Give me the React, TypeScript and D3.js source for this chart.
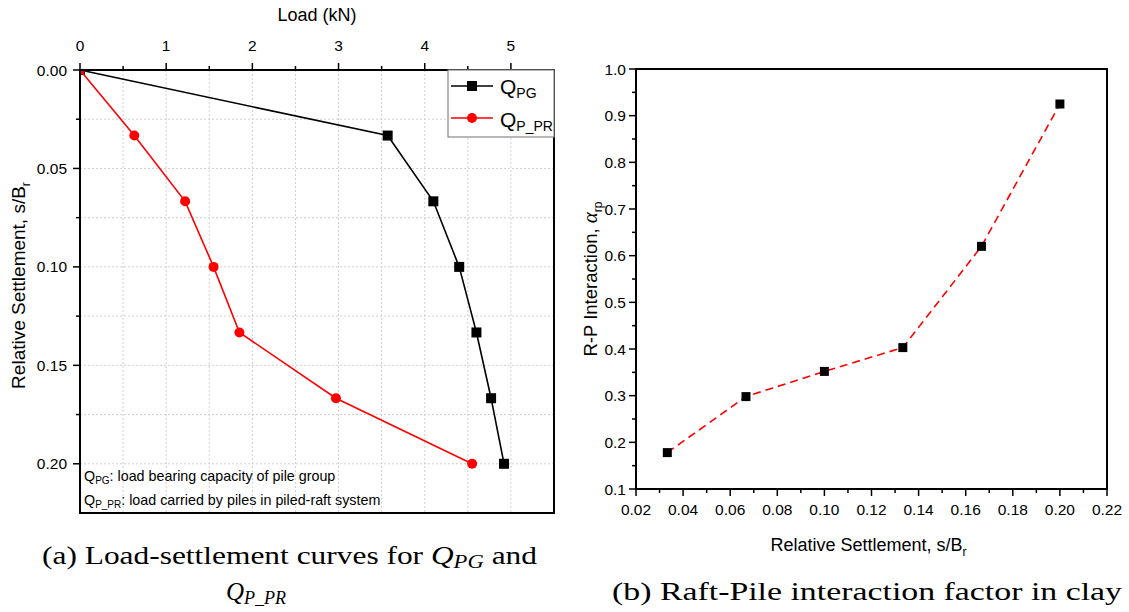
import React from "react";
import * as d3 from "d3";

// Left chart data: load (kN) vs relative settlement
const settlement = [0, 0.0333, 0.0667, 0.1, 0.1333, 0.1667, 0.2];
const loadPG = [0, 3.57, 4.1, 4.4, 4.6, 4.77, 4.92];
const loadPPR = [0, 0.63, 1.22, 1.55, 1.85, 2.97, 4.55];

// Right chart data: interaction factor vs relative settlement
const settleRP = [0.0333, 0.0667, 0.1, 0.1333, 0.1667, 0.2];
const alphaRP = [0.178, 0.298, 0.352, 0.403, 0.62, 0.925];

const leftXTicks = [0, 1, 2, 3, 4, 5];
const leftXMinor = [0.5, 1.5, 2.5, 3.5, 4.5];
const leftYTicks = [0, 0.05, 0.1, 0.15, 0.2];
const leftYMinor = [0.025, 0.075, 0.125, 0.175];
const rightXTicks = [0.02, 0.04, 0.06, 0.08, 0.1, 0.12, 0.14, 0.16, 0.18, 0.2, 0.22];
const rightXMinor = [0.03, 0.05, 0.07, 0.09, 0.11, 0.13, 0.15, 0.17, 0.19, 0.21];
const rightYTicks = [0.1, 0.2, 0.3, 0.4, 0.5, 0.6, 0.7, 0.8, 0.9, 1.0];
const rightYMinor = [0.15, 0.25, 0.35, 0.45, 0.55, 0.65, 0.75, 0.85, 0.95];

const SANS = "Arial, 'Liberation Sans', sans-serif";
const SERIF = "'Liberation Serif', 'DejaVu Serif', serif";

export default function App() {
  const lx = d3.scaleLinear().domain([0, 5.5]).range([80, 554]);
  const ly = d3.scaleLinear().domain([0, 0.225]).range([70, 513]);
  const rx = d3.scaleLinear().domain([0.02, 0.22]).range([636, 1107]);
  const ry = d3.scaleLinear().domain([0.1, 1.0]).range([489, 69]);

  const linePG = d3
    .line<number>()
    .x((d) => lx(d))
    .y((_, i) => ly(settlement[i]))(loadPG) as string;
  const linePPR = d3
    .line<number>()
    .x((d) => lx(d))
    .y((_, i) => ly(settlement[i]))(loadPPR) as string;
  const lineRP = d3
    .line<number>()
    .x((d) => rx(d))
    .y((_, i) => ry(alphaRP[i]))(settleRP) as string;

  const [lx0, lx1] = lx.range();
  const [ly0, ly1] = ly.range();
  const [rx0, rx1] = rx.range();
  const [ry1, ry0] = ry.range();

  return (
    <svg
      width={1129}
      height={612}
      style={{ position: "absolute", left: 0, top: 0, background: "#fff" }}
      fontFamily={SANS}
    >
      <rect x={0} y={0} width={1129} height={612} fill="#fff" />
      <defs>
        <clipPath id="clipL">
          <rect x={lx0} y={ly0} width={lx1 - lx0} height={ly1 - ly0} />
        </clipPath>
      </defs>

      {/* ===== LEFT CHART ===== */}
      <g stroke="#d0d0d0" strokeWidth={1} strokeDasharray="2,2">
        {[...leftXTicks, ...leftXMinor].filter((v) => v > 0).map((v) => (
          <line key={"gx" + v} x1={lx(v)} x2={lx(v)} y1={ly0} y2={ly1} />
        ))}
        {[...leftYTicks, ...leftYMinor].filter((v) => v > 0).map((v) => (
          <line key={"gy" + v} x1={lx0} x2={lx1} y1={ly(v)} y2={ly(v)} />
        ))}
      </g>
      <g clipPath="url(#clipL)">
        <path d={linePG} fill="none" stroke="#000" strokeWidth={1.6} />
        {loadPG.map((v, i) => (
          <rect key={"pg" + i} x={lx(v) - 5} y={ly(settlement[i]) - 5} width={10} height={10} fill="#000" />
        ))}
        <path d={linePPR} fill="none" stroke="#f00" strokeWidth={1.6} />
        {loadPPR.map((v, i) => (
          <circle key={"ppr" + i} cx={lx(v)} cy={ly(settlement[i])} r={5} fill="#f00" />
        ))}
      </g>
      <rect x={lx0} y={ly0} width={lx1 - lx0} height={ly1 - ly0} fill="none" stroke="#000" strokeWidth={2} />
      <g stroke="#000" strokeWidth={1.5}>
        {leftXTicks.map((v) => (
          <line key={"tx" + v} x1={lx(v)} x2={lx(v)} y1={ly0} y2={ly0 - 7} />
        ))}
        {leftXMinor.map((v) => (
          <line key={"mx" + v} x1={lx(v)} x2={lx(v)} y1={ly0} y2={ly0 - 4} />
        ))}
        {leftYTicks.map((v) => (
          <line key={"ty" + v} x1={lx0} x2={lx0 - 7} y1={ly(v)} y2={ly(v)} />
        ))}
        {leftYMinor.map((v) => (
          <line key={"my" + v} x1={lx0} x2={lx0 - 4} y1={ly(v)} y2={ly(v)} />
        ))}
      </g>
      <g fontSize={15.5} fill="#000">
        {leftXTicks.map((v) => (
          <text key={"lx" + v} x={lx(v)} y={ly0 - 19} textAnchor="middle">
            {d3.format("d")(v)}
          </text>
        ))}
        {leftYTicks.map((v) => (
          <text key={"ly" + v} x={lx0 - 13} y={ly(v) + 5.5} textAnchor="end">
            {d3.format(".2f")(v)}
          </text>
        ))}
      </g>
      <text x={(lx0 + lx1) / 2} y={21} textAnchor="middle" fontSize={18}>
        Load (kN)
      </text>
      <text transform={`translate(25, ${(ly0 + ly1) / 2 - 6}) rotate(-90)`} textAnchor="middle" fontSize={19}>
        Relative Settlement, s/B
        <tspan fontSize={12} dy={5}>r</tspan>
      </text>
      {/* legend */}
      <rect x={448} y={ly0} width={lx1 - 448} height={67} fill="#fff" stroke="#888" strokeWidth={1.2} />
      <line x1={451} x2={493} y1={86} y2={86} stroke="#000" strokeWidth={1.6} />
      <rect x={467} y={81} width={10} height={10} fill="#000" />
      <text x={500} y={94} fontSize={21}>
        Q<tspan fontSize={14} dy={4}>PG</tspan>
      </text>
      <line x1={451} x2={493} y1={118} y2={118} stroke="#f00" strokeWidth={1.6} />
      <circle cx={472} cy={118} r={5} fill="#f00" />
      <text x={500} y={127} fontSize={21}>
        Q<tspan fontSize={14} dy={4}>P_PR</tspan>
      </text>
      {/* annotation */}
      <text x={84} y={481} fontSize={14.3}>
        Q<tspan fontSize={10} dy={3}>PG</tspan>
        <tspan dy={-3}>: load bearing capacity of pile group</tspan>
      </text>
      <text x={84} y={505} fontSize={14.3}>
        Q<tspan fontSize={10} dy={3}>P_PR</tspan>
        <tspan dy={-3}>: load carried by piles in piled-raft system</tspan>
      </text>

      {/* ===== RIGHT CHART ===== */}
      <path d={lineRP} fill="none" stroke="#f00" strokeWidth={1.6} strokeDasharray="8,5" />
      {settleRP.map((v, i) => (
        <rect key={"rp" + i} x={rx(v) - 4.5} y={ry(alphaRP[i]) - 4.5} width={9} height={9} fill="#000" />
      ))}
      <rect x={rx0} y={ry0} width={rx1 - rx0} height={ry1 - ry0} fill="none" stroke="#000" strokeWidth={2} />
      <g stroke="#000" strokeWidth={1.5}>
        {rightXTicks.map((v) => (
          <line key={"rtx" + v} x1={rx(v)} x2={rx(v)} y1={ry1} y2={ry1 + 7} />
        ))}
        {rightXMinor.map((v) => (
          <line key={"rmx" + v} x1={rx(v)} x2={rx(v)} y1={ry1} y2={ry1 + 4} />
        ))}
        {rightYTicks.map((v) => (
          <line key={"rty" + v} x1={rx0} x2={rx0 - 7} y1={ry(v)} y2={ry(v)} />
        ))}
        {rightYMinor.map((v) => (
          <line key={"rmy" + v} x1={rx0} x2={rx0 - 4} y1={ry(v)} y2={ry(v)} />
        ))}
      </g>
      <g fontSize={15.5} fill="#000">
        {rightXTicks.map((v) => (
          <text key={"rxl" + v} x={rx(v)} y={ry1 + 26} textAnchor="middle">
            {d3.format(".2f")(v)}
          </text>
        ))}
        {rightYTicks.map((v) => (
          <text key={"ryl" + v} x={rx0 - 10} y={ry(v) + 5.5} textAnchor="end">
            {d3.format(".1f")(v)}
          </text>
        ))}
      </g>
      <text x={(rx0 + rx1) / 2 - 3} y={551} textAnchor="middle" fontSize={18}>
        Relative Settlement, s/B
        <tspan fontSize={12} dy={5}>r</tspan>
      </text>
      <text transform={`translate(597, ${(ry0 + ry1) / 2}) rotate(-90)`} textAnchor="middle" fontSize={18.5}>
        R-P Interaction, <tspan fontStyle="italic" fontFamily={SERIF} fontSize={21}>α</tspan>
        <tspan fontSize={12} dy={5}>rp</tspan>
      </text>

      {/* ===== CAPTIONS ===== */}
      <g fontFamily={SERIF} fontSize={25} fill="#000">
        <text x={42} y={564} textLength={495} lengthAdjust="spacingAndGlyphs">
          (a) Load-settlement curves for <tspan fontStyle="italic">Q</tspan>
          <tspan fontStyle="italic" fontSize={18} dy={4}>PG</tspan>
          <tspan dy={-4}> and</tspan>
        </text>
        <text x={226} y={600}>
          <tspan fontStyle="italic">Q</tspan>
          <tspan fontStyle="italic" fontSize={18} dy={4}>P_PR</tspan>
        </text>
        <text x={612} y={600} textLength={510} lengthAdjust="spacingAndGlyphs">
          (b) Raft-Pile interaction factor in clay
        </text>
      </g>
    </svg>
  );
}
